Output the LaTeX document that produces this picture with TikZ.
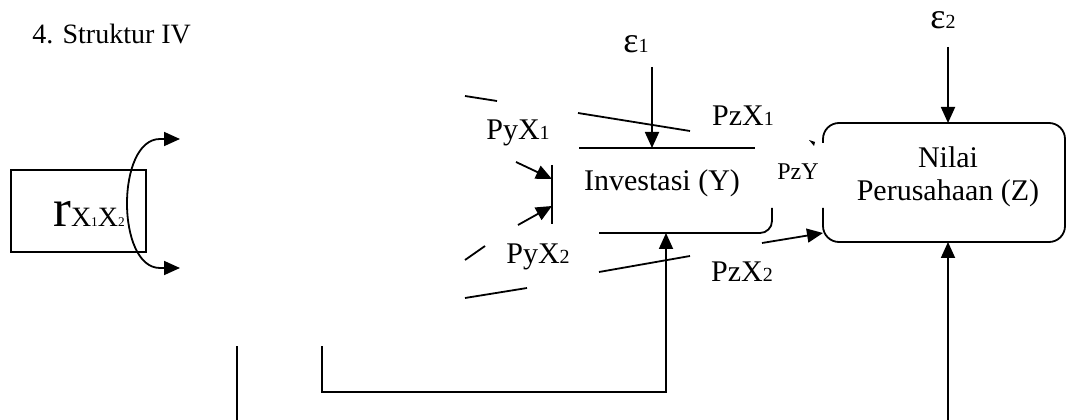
\documentclass[tikz,border=0pt]{standalone}
\usepackage{fontspec}
\setmainfont{Liberation Serif}
\usetikzlibrary{arrows.meta}
\newcommand\smd[1]{{\fontsize{15}{15}\selectfont #1}}
\begin{document}
\begin{tikzpicture}[x=0.75pt,y=-0.75pt,
  ln/.style={line width=1.35pt},
  tip/.tip={Triangle[length=12pt,width=10.5pt]},
  arr/.style={ln,-tip},
  lbl/.style={inner sep=0pt,font=\fontsize{22.5}{26}\selectfont},
  eps/.style={inner sep=0pt,font=\fontsize{27}{30}\selectfont},
  smlbl/.style={inner sep=0pt,font=\fontsize{18}{20}\selectfont}]
\useasboundingbox (0,0) rectangle (1067,420);

% title
\node[anchor=base west,inner sep=0pt,font=\fontsize{21}{23}\selectfont] (title) at (32,44) {4.\hspace{7pt}Struktur IV};

% correlation box
\draw[ln] (11,170) rectangle (146,252);
\node[anchor=base west,inner sep=0pt] (rx) at (53,227)
  {{\fontsize{40}{42}\selectfont r}{\fontsize{21}{22}\selectfont X}{\fontsize{10}{11}\selectfont 1}{\fontsize{21}{22}\selectfont X}{\fontsize{10}{11}\selectfont 2}};
\coordinate (c1) at (180,139);
\coordinate (c2) at (180,268);
\draw[ln,tip-tip] (c1) -- (160,139) .. controls (116,139) and (116,268) .. (160,268) -- (c2);

% epsilon labels
\node[eps,anchor=base] (e1) at (636,53) {ε\smd{1}};
\node[eps,anchor=base] (e2) at (943,29) {ε\smd{2}};

% Investasi (partial box)
\node[lbl] (inv) at (662,183) {Investasi (Y)};
\draw[ln] (579,148) -- (755,148);
\draw[ln] (552,165) -- (552,224);
\draw[ln,rounded corners=9pt] (599,233) -- (772,233) -- (772,208);
\coordinate (invtop) at (652,148);
\coordinate (invbot) at (666,233);
\coordinate (invl1) at (552,179);
\coordinate (invl2) at (552,206);

% Nilai Perusahaan (partial rounded box)
\draw[ln,rounded corners=12pt] (823,143) -- (823,123) -- (1065,123) -- (1065,242) -- (823,242) -- (823,208);
\node[lbl,align=center] (nil) at (948,177) {Nilai\\[-1pt]Perusahaan (Z)};
\coordinate (niltop) at (948,123);
\coordinate (nilbot) at (948,242);
\coordinate (nill) at (823,233);

% error arrows
\coordinate (e1s) at (652,67);
\coordinate (e2s) at (948,47);
\draw[arr] (e1s) -- (invtop);
\draw[arr] (e2s) -- (niltop);

% path labels
\node[lbl] (pyx1) at (518,133) {PyX\smd{1}};
\node[lbl] (pyx2) at (538,257) {PyX\smd{2}};
\node[lbl] (pzx1) at (743,116) {PzX\smd{1}};
\node[lbl] (pzx2) at (742,272) {PzX\smd{2}};
\node[smlbl] (pzy) at (798,172) {PzY};

% arrows into Investasi
\coordinate (a1s) at (516,162);
\coordinate (a2s) at (518,225);
\draw[arr] (a1s) -- (invl1);
\draw[arr] (a2s) -- (invl2);

% fragments of lines
\draw[ln] (465,96) -- (497,101);
\draw[ln] (578,113) -- (690,131);
\draw[ln] (465,260) -- (485,246);
\draw[ln] (465,298) -- (527,288);
\draw[ln] (599,272) -- (690,256);
\fill (809,140) -- (815,142) -- (814,146) -- cycle;

% arrow Investasi -> Nilai
\coordinate (pzs) at (762,243);
\draw[arr] (pzs) -- (nill);

% bottom connectors
\coordinate (b1) at (237,346);
\coordinate (b1e) at (237,420);
\draw[ln] (b1) -- (b1e);
\coordinate (b2) at (322,346);
\draw[arr] (b2) |- (666,392) -- (invbot);
\coordinate (b3) at (948,420);
\draw[arr] (b3) -- (nilbot);
\end{tikzpicture}
\end{document}
